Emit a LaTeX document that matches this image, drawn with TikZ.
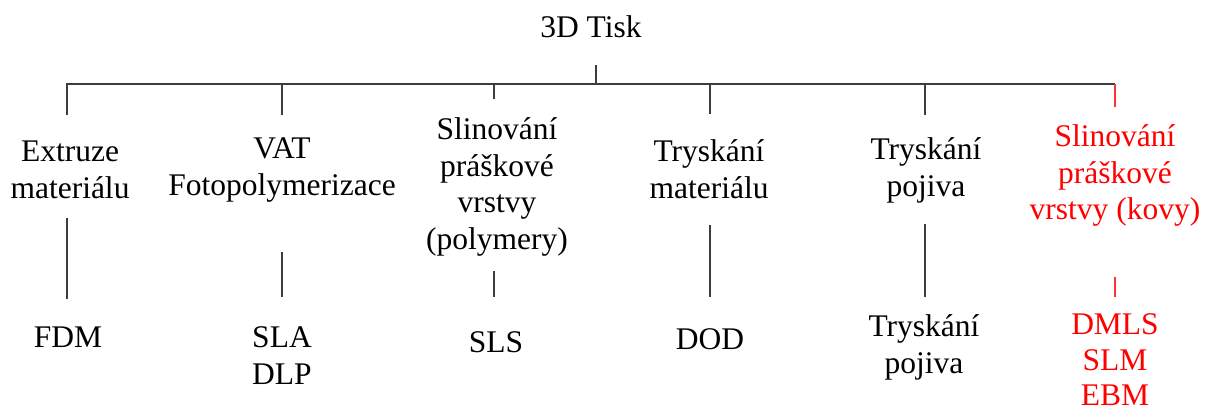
\documentclass[tikz,border=0pt]{standalone}
\usepackage{fontspec}
\setmainfont{Liberation Serif}
\definecolor{linegray}{HTML}{3C3C3C}
\definecolor{hilite}{HTML}{FF0000}
\newcommand\stackrows[1]{\begin{tabular}[t]{@{}c@{}}#1\end{tabular}}
% same as \stackrows, but without the strut depth below the last row
\newcommand\flatstack[1]{\raisebox{0pt}[\height][0pt]{\stackrows{#1}}}
\tikzset{
  lbl/.style={anchor=base, inner sep=0pt, font=\fontsize{31.5}{36.5}\selectfont},
  redlbl/.style={lbl, text=hilite},
  tightlbl/.style={redlbl, font=\fontsize{31.5}{35.5}\selectfont},
  link/.style={draw=linegray, line width=2pt},
  redlink/.style={draw=hilite!80, line width=1.6pt}
}
\begin{document}
\begin{tikzpicture}[x=1pt,y=-1pt]
  \useasboundingbox (0,0) rectangle (1211,411);

  % labels
  \node[lbl] (root) at (591,38) {3D Tisk};
  \node[lbl] (c1) at (70,162) {\stackrows{Extruze\\materiálu}};
  \node[lbl] (c2) at (282,159) {\stackrows{VAT\\Fotopolymerizace}};
  \node[lbl] (c3) at (497,140) {\stackrows{Slinování\\práškové\\vrstvy\\(polymery)}};
  \node[lbl] (c4) at (709,162) {\stackrows{Tryskání\\materiálu}};
  \node[lbl] (c5) at (926,160) {\stackrows{Tryskání\\pojiva}};
  \node[redlbl] (c6) at (1115,147) {\stackrows{Slinování\\práškové\\vrstvy (kovy)}};

  \node[lbl] (t1) at (68,348) {FDM};
  \node[lbl] (t2) at (282,348) {\stackrows{SLA\\DLP}};
  \node[lbl] (t3) at (496,353) {SLS};
  \node[lbl] (t4) at (710,350) {DOD};
  \node[lbl] (t5) at (924,337) {\stackrows{Tryskání\\pojiva}};
  \node[tightlbl] (t6) at (1115,335) {\flatstack{DMLS\\SLM\\EBM}};

  % tree junction points
  \coordinate (rs) at (596,65);
  \coordinate (rb) at (596,84);
  \coordinate (b1) at (67,84);
  \coordinate (b2) at (282,84);
  \coordinate (b3) at (494,84);
  \coordinate (b4) at (710,84);
  \coordinate (b5) at (925,84);
  \coordinate (b6) at (1115,84);
  \coordinate (d1) at (67,115);
  \coordinate (d2) at (282,115);
  \coordinate (d3) at (494,99);
  \coordinate (d4) at (710,114);
  \coordinate (d5) at (925,115);
  \coordinate (d6) at (1115,107);
  % second level stems
  \coordinate (u1) at (67,218);  \coordinate (l1) at (67,299);
  \coordinate (u2) at (282,252); \coordinate (l2) at (282,297);
  \coordinate (u3) at (494,271); \coordinate (l3) at (494,297);
  \coordinate (u4) at (710,225); \coordinate (l4) at (710,297);
  \coordinate (u5) at (925,224); \coordinate (l5) at (925,297);
  \coordinate (u6) at (1115,277); \coordinate (l6) at (1115,297);

  % connectors
  \draw[link] (rs) -- (rb);
  \draw[link] (d1) -- (b1) -- (b6);
  \draw[link] (b2) -- (d2);
  \draw[link] (b3) -- (d3);
  \draw[link] (b4) -- (d4);
  \draw[link] (b5) -- (d5);
  \draw[redlink] (b6) -- (d6);

  \draw[link] (u1) -- (l1);
  \draw[link] (u2) -- (l2);
  \draw[link] (u3) -- (l3);
  \draw[link] (u4) -- (l4);
  \draw[link] (u5) -- (l5);
  \draw[redlink] (u6) -- (l6);
\end{tikzpicture}
\end{document}
